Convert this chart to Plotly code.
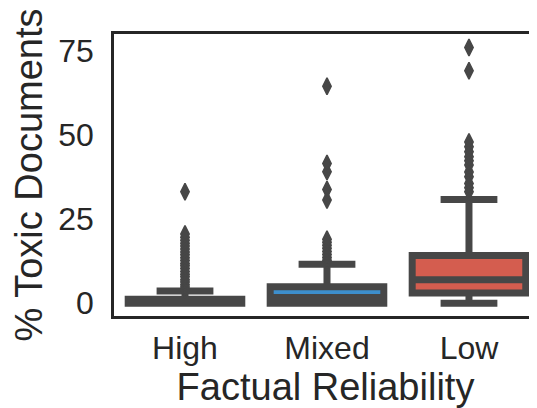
import plotly.graph_objects as go

categories = ["High", "Mixed", "Low"]
q1 = [0.0, 0.0, 3.0]
median = [0.4, 1.7, 7.0]
q3 = [1.2, 4.9, 14.2]
lower_whisker = [0.0, 0.0, 0.0]
upper_whisker = [3.6, 11.6, 30.8]
box_colors = ["#2ecc71", "#3d8fcd", "#d45d4f"]

outliers_high = [4.0, 4.8, 5.5, 6.3, 7.0, 7.9, 8.6, 9.4, 10.3, 11.1, 11.8, 12.7,
                 13.5, 14.4, 15.2, 16.1, 17.0, 17.8, 18.7, 19.6, 20.6, 33.1]
outliers_mixed = [12.8, 13.6, 14.5, 15.4, 16.3, 17.2, 18.1, 19.0, 30.7, 33.8,
                  39.1, 41.5, 64.5]
outliers_low = [33.1, 34.3, 35.6, 37.6, 39.0, 41.1, 42.3, 43.5, 45.0, 46.5,
                47.9, 69.1, 76.0]
outliers = [outliers_high, outliers_mixed, outliers_low]

y_ticks = [0, 25, 50, 75]

edge = "#474747"
text_color = "#262626"
font_family = "Liberation Sans, Arial, sans-serif"

fig = go.Figure()
for i, cat in enumerate(categories):
    fig.add_trace(go.Box(
        x=[cat], q1=[q1[i]], median=[median[i]], q3=[q3[i]],
        lowerfence=[lower_whisker[i]], upperfence=[upper_whisker[i]],
        width=0.8, whiskerwidth=0.5,
        fillcolor=box_colors[i],
        line=dict(color=edge, width=7),
        boxpoints=False, showlegend=False, hoverinfo="skip",
    ))
for i, cat in enumerate(categories):
    fig.add_trace(go.Scatter(
        x=[cat] * len(outliers[i]), y=outliers[i], mode="markers",
        marker=dict(symbol="diamond-tall", size=12, color=edge,
                    line=dict(color=edge, width=1.5)),
        showlegend=False, hoverinfo="skip",
    ))

# the page body adds an 8px offset, so the figure is 8px smaller than the window
fig.update_layout(
    width=529, height=400,
    margin=dict(l=106, r=0, t=26, b=92),
    paper_bgcolor="white", plot_bgcolor="white",
    font=dict(family=font_family, color=text_color),
    boxmode="overlay",
)
fig.update_xaxes(
    type="category", categoryorder="array", categoryarray=categories,
    range=[-0.5, 2.479], automargin=False,
    showline=True, linecolor="#262626", linewidth=2.5, mirror=True,
    showgrid=False, zeroline=False, ticks="", ticklabelstandoff=2,
    tickfont=dict(size=32, family=font_family, color=text_color),
    title=dict(text="Factual Reliability", font=dict(size=38, family=font_family, color=text_color), standoff=14),
)
fig.update_yaxes(
    range=[-3.8, 80], tickvals=y_ticks, ticktext=[str(v) for v in y_ticks],
    automargin=False,
    showline=True, linecolor="#262626", linewidth=2.5, mirror=False,
    showgrid=False, zeroline=False, ticks="", ticklabelstandoff=11,
    tickfont=dict(size=32, family=font_family, color=text_color),
    title=dict(text="% Toxic Documents", font=dict(size=38, family=font_family, color=text_color), standoff=6),
)

fig.write_html("out.html")
